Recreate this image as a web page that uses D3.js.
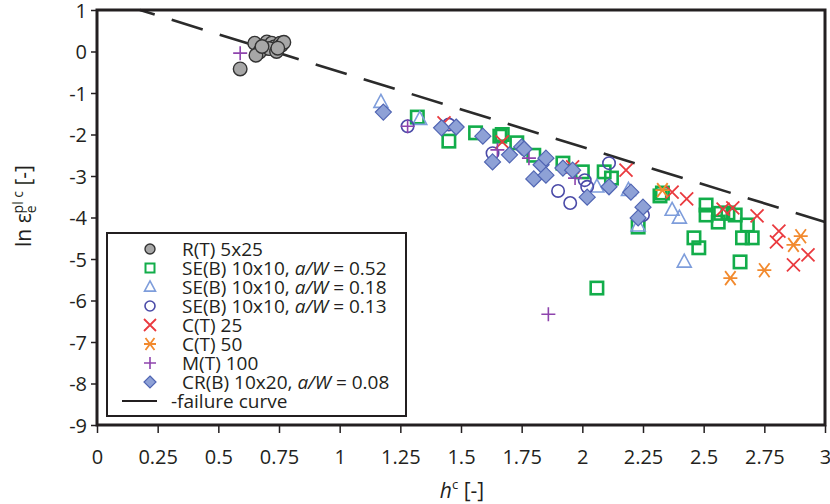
<!DOCTYPE html>
<html><head><meta charset="utf-8">
<script src="https://cdn.jsdelivr.net/npm/d3@7"></script>
<style>body{margin:0;background:#fff}text{font-family:"Open Sans",sans-serif;fill:#231f20}</style>
</head><body>
<svg id="c" width="830" height="504"></svg>
<script>
// ---- data ----
const xTicks = [0,0.25,0.5,0.75,1,1.25,1.5,1.75,2,2.25,2.5,2.75,3];
const xTickLabels = ["0","0.25","0.5","0.75","1","1.25","1.5","1.75","2","2.25","2.5","2.75","3"];
const yTicks = [1,0,-1,-2,-3,-4,-5,-6,-7,-8,-9];
const rT = [[0.59,-0.42],[0.65,0.20],[0.67,-0.01],[0.655,-0.09],[0.70,0.23],[0.72,0.20],[0.73,0.11],[0.755,0.20],[0.76,0.15],[0.71,0.07],[0.74,0.0],[0.68,0.12],[0.77,0.22],[0.745,0.08]];
const seB52 = [[1.32,-1.58],[1.45,-2.16],[1.56,-1.96],[1.66,-2.04],[1.67,-2.0],[1.73,-2.2],[1.80,-2.5],[1.92,-2.69],[2.00,-2.90],[2.09,-2.90],[2.12,-3.05],[2.23,-4.23],[2.33,-3.41],[2.32,-3.48],[2.46,-4.49],[2.48,-4.73],[2.06,-5.70],[2.51,-3.70],[2.51,-3.94],[2.56,-4.11],[2.57,-3.9],[2.60,-3.89],[2.63,-3.94],[2.68,-4.18],[2.66,-4.49],[2.70,-4.49],[2.65,-5.07]];
const seB18 = [[1.17,-1.22],[1.33,-1.63],[2.06,-3.26],[2.19,-3.34],[2.23,-4.20],[2.37,-3.82],[2.40,-4.01],[2.42,-5.07]];
const seB13 = [[1.28,-1.80],[1.45,-1.76],[1.63,-2.45],[1.90,-3.36],[1.95,-3.65],[2.01,-3.10],[2.02,-3.26],[2.11,-2.69],[2.25,-3.94]];
const cT25 = [[1.43,-1.72],[1.67,-2.18],[1.96,-2.78],[2.18,-2.86],[2.37,-3.39],[2.43,-3.55],[2.58,-3.80],[2.62,-3.77],[2.72,-3.96],[2.81,-4.33],[2.80,-4.59],[2.93,-4.90],[2.87,-5.14]];
const cT50 = [[2.33,-3.34],[2.61,-5.46],[2.75,-5.27],[2.87,-4.66],[2.90,-4.45]];
const mT100 = [[0.59,-0.04],[1.28,-1.80],[1.65,-2.37],[1.78,-2.57],[1.97,-3.05],[1.86,-6.33]];
const crB = [[1.18,-1.46],[1.42,-1.84],[1.48,-1.82],[1.59,-2.04],[1.63,-2.66],[1.70,-2.49],[1.75,-2.30],[1.76,-2.35],[1.80,-3.07],[1.83,-2.73],[1.85,-2.57],[1.85,-2.98],[1.92,-2.81],[1.96,-2.86],[2.02,-3.51],[2.11,-3.26],[2.20,-3.39],[2.25,-3.75],[2.23,-4.01]];
const failureCurve = [[0.177,1],[3,-4.11]];
const legendLabels = ["R(T) 5x25","SE(B) 10x10, a/W = 0.52","SE(B) 10x10, a/W = 0.18","SE(B) 10x10, a/W = 0.13","C(T) 25","C(T) 50","M(T) 100","CR(B) 10x20, a/W = 0.08","-failure curve"];

// ---- layout ----
const svg = d3.select("#c");
const L=97,R=825,T=10,B=425;
const x = d3.scaleLinear().domain([0,3]).range([L,R]);
const y = d3.scaleLinear().domain([-9,1]).range([B,T]);

// axes
const xa = svg.append("g").attr("transform",`translate(0,${B})`)
  .call(d3.axisBottom(x).tickValues(xTicks).tickFormat((d,i)=>xTickLabels[i]).tickSize(8).tickPadding(17));
const ya = svg.append("g").attr("transform",`translate(${L},0)`)
  .call(d3.axisLeft(y).tickValues(yTicks).tickFormat(d=>String(d)).tickSize(6).tickPadding(4));
[xa,ya].forEach(a=>{a.select(".domain").remove();a.selectAll("line").attr("stroke","#231f20").attr("stroke-width",1.5);
  a.selectAll("text").attr("font-size",20).attr("font-family","Open Sans").attr("fill","#231f20");});
ya.selectAll("text").attr("dy","0.36em");

// failure curve
const fx0=x(failureCurve[0][0]);
const slope=(y(failureCurve[1][1])-y(failureCurve[0][1]))/(x(failureCurve[1][0])-x(failureCurve[0][0]));
const k=Math.sqrt(1+slope*slope);
svg.append("path").attr("d",d3.line().x(d=>x(d[0])).y(d=>y(d[1]))(failureCurve))
  .attr("fill","none").attr("stroke","#2b2b2b").attr("stroke-width",2.6)
  .attr("stroke-dasharray",`${31*k},${17*k}`).attr("stroke-dashoffset",(48*k - ((411.7-fx0)*k)%(48*k)));

// markers
const sym = {
  circle:(g,s)=>g.append("circle").attr("r",s),
  square:(g,s)=>g.append("rect").attr("x",-s).attr("y",-s).attr("width",2*s).attr("height",2*s),
  tri:(g,s)=>g.append("path").attr("d",`M0,${-s*1.1}L${s},${s*0.75}L${-s},${s*0.75}Z`),
  x:(g,s)=>g.append("path").attr("d",`M${-s},${-s}L${s},${s}M${-s},${s}L${s},${-s}`),
  ast:(g,s)=>g.append("path").attr("d",`M${-s*0.75},${-s}L${s*0.75},${s}M${-s*0.75},${s}L${s*0.75},${-s}M${-s},0L${s},0`),
  plus:(g,s)=>g.append("path").attr("d",`M0,${-s}L0,${s}M${-s},0L${s},0`),
  diamond:(g,s)=>g.append("path").attr("d",`M0,${-s}L${s},0L0,${s}L${-s},0Z`)
};
const series = [
  {data:rT, shape:"circle", size:6.8, fill:"#a7a7a7", stroke:"#333", sw:1.4, ls:5},
  {data:seB52, shape:"square", size:6.2, fill:"none", stroke:"#12ad4a", sw:2.6, ls:4.5},
  {data:seB18, shape:"tri", size:7, fill:"none", stroke:"#7e9ddb", sw:1.6, ls:5.5},
  {data:seB13, shape:"circle", size:6.2, fill:"none", stroke:"#4b4ba8", sw:1.6, ls:5},
  {data:cT25, shape:"x", size:6.5, fill:"none", stroke:"#ea3a3f", sw:1.8, ls:6},
  {data:cT50, shape:"ast", size:7, fill:"none", stroke:"#f28a2e", sw:1.8, ls:6},
  {data:mT100, shape:"plus", size:7, fill:"none", stroke:"#8e44ad", sw:1.6, ls:6},
  {data:crB, shape:"diamond", size:8, fill:"#8ea1d6", stroke:"#5065b3", sw:1.2, ls:6}
];
series.forEach(s=>{
  s.data.forEach(d=>{
    const g=svg.append("g").attr("transform",`translate(${x(d[0])},${y(d[1])})`);
    sym[s.shape](g,s.size).attr("fill",s.fill).attr("stroke",s.stroke).attr("stroke-width",s.sw);
  });
});

// frame
svg.append("rect").attr("x",L).attr("y",T).attr("width",R-L).attr("height",B-T)
  .attr("fill","none").attr("stroke","#231f20").attr("stroke-width",3);

// legend
const lg = svg.append("g");
lg.append("rect").attr("x",107).attr("y",233).attr("width",299).attr("height",183)
  .attr("fill","#fff").attr("stroke","#231f20").attr("stroke-width",2);
const rowY = i=>249+i*19;
series.forEach((s,i)=>{
  const g=lg.append("g").attr("transform",`translate(150,${rowY(i)})`);
  sym[s.shape](g,s.ls).attr("fill",s.fill).attr("stroke",s.stroke).attr("stroke-width",Math.min(s.sw,2));
});
lg.append("line").attr("x1",122).attr("x2",157).attr("y1",rowY(8)).attr("y2",rowY(8)).attr("stroke","#231f20").attr("stroke-width",2);
legendLabels.forEach((t,i)=>{
  const tx=lg.append("text").attr("x",i===8?171:182).attr("y",rowY(i)).attr("dy","0.35em").attr("font-size",19);
  const m=t.match(/^(.*)a\/W(.*)$/);
  if(m){tx.append("tspan").text(m[1]);tx.append("tspan").attr("font-style","italic").text("a/W");tx.append("tspan").text(m[2]);}
  else tx.text(t);
});

// axis titles
const yl = svg.append("text").attr("transform","translate(31,206) rotate(-90)").attr("text-anchor","middle").attr("font-size",21);
yl.append("tspan").text("ln ε");
yl.append("tspan").attr("font-size",14).attr("dy",5).text("e");
yl.append("tspan").attr("font-size",14).attr("dx",-8).attr("dy",-13).text("pl c");
yl.append("tspan").attr("dy",8).text(" [-]");
const xl = svg.append("text").attr("x",462).attr("y",498).attr("text-anchor","middle").attr("font-size",21);
xl.append("tspan").attr("font-style","italic").text("h");
xl.append("tspan").attr("font-size",13).attr("dy",-9).text("c");
xl.append("tspan").attr("dy",9).text(" [-]");
</script>
</body></html>
